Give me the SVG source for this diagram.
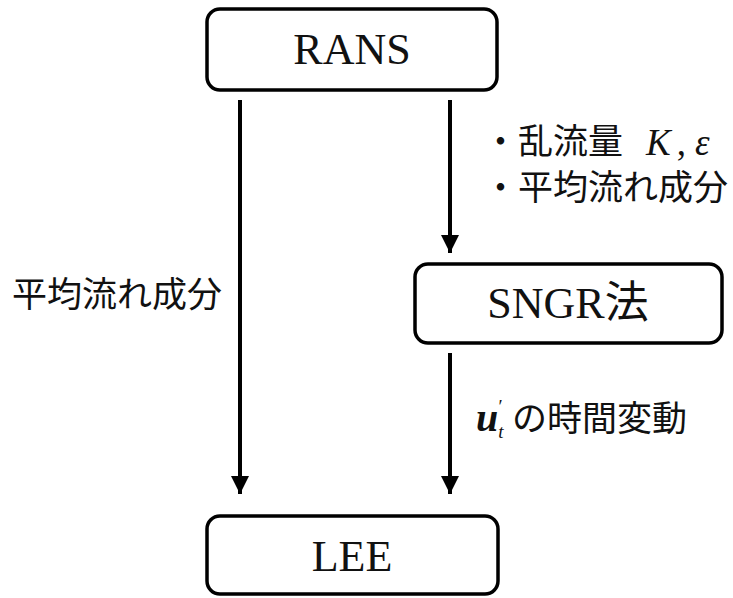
<svg xmlns="http://www.w3.org/2000/svg" width="733" height="598" viewBox="0 0 733 598">
<style>
.box{fill:#fff;stroke:#000;stroke-width:3.5}
.t{font-family:"Liberation Serif","Noto Sans CJK JP",serif;font-size:44px;fill:#111;text-anchor:middle}
.j{font-family:"Noto Sans CJK JP","Liberation Serif",sans-serif;font-size:35px;fill:#111}
.m{font-family:"Liberation Serif",serif;font-style:italic;font-size:37px;fill:#111}
.c{stroke:#000;stroke-width:4;fill:none}
</style>
<defs>
<marker id="ah" viewBox="0 0 10 10" refX="10" refY="5" markerWidth="4.5" markerHeight="4.5" orient="auto" markerUnits="strokeWidth">
<path d="M0,0 L10,5 L0,10 z" fill="#000"/>
</marker>
</defs>
<g id="connectors">
<line class="c" x1="240" y1="100" x2="240" y2="494" marker-end="url(#ah)"/>
<line class="c" x1="450" y1="100" x2="450" y2="253" marker-end="url(#ah)"/>
<line class="c" x1="450" y1="353" x2="450" y2="494" marker-end="url(#ah)"/>
</g>
<g id="rans">
<rect class="box" x="207" y="9" width="290" height="81" rx="13"/>
<text class="t" x="352" y="64">RANS</text>
</g>
<g id="sngr">
<rect class="box" x="415" y="264" width="307" height="79" rx="13"/>
<text class="t" x="568" y="318">SNGR法</text>
</g>
<g id="lee">
<rect class="box" x="207" y="516" width="291" height="78" rx="13"/>
<text class="t" x="352" y="571">LEE</text>
</g>
<g id="labels">
<text class="j" x="483" y="154">・乱流量</text>
<text class="m" x="646" y="155">K<tspan dx="6" style="font-style:normal">,</tspan><tspan dx="9">ε</tspan></text>
<text class="j" x="483" y="200">・平均流れ成分</text>
<text class="j" x="12" y="307">平均流れ成分</text>
<text x="476" y="431" style="font-family:'Liberation Serif',serif;font-weight:bold;font-style:italic;font-size:40px;fill:#111">u<tspan dy="7" style="font-weight:normal;font-size:19px">t</tspan><tspan dx="-5" dy="-25" style="font-weight:normal;font-style:normal;font-size:19px">′</tspan></text>
<text class="j" x="512" y="431">の時間変動</text>
</g>
</svg>
